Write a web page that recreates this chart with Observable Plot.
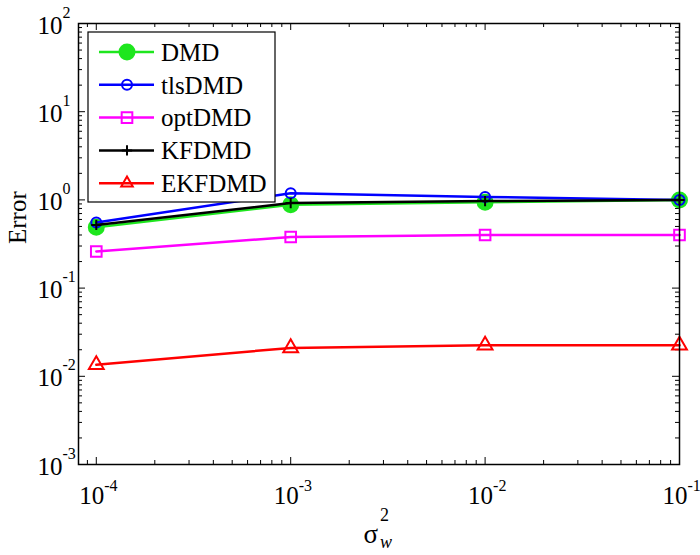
<!DOCTYPE html>
<html><head><meta charset="utf-8">
<script src="https://cdn.jsdelivr.net/npm/d3@7"></script>
<script src="https://cdn.jsdelivr.net/npm/@observablehq/plot@0.6"></script>
<style>body{margin:0;background:#fff} svg text{font-family:'Liberation Serif','Times New Roman',serif !important;}</style>
</head><body><div id="chart"></div>
<script>
// ---- data ----
const noise = [1e-4, 1e-3, 1e-2, 1e-1];
const dmd    = [0.49, 0.88, 0.94, 1.0];
const tlsDmd = [0.555, 1.19, 1.08, 1.0];
const optDmd = [0.26, 0.38, 0.40, 0.40];
const kfDmd  = [0.52, 0.92, 0.97, 1.0];
const ekfDmd = [0.0135, 0.021, 0.0225, 0.0225];
const seriesNames = ["DMD", "tlsDMD", "optDMD", "KFDMD", "EKFDMD"];
const seriesValues = [dmd, tlsDmd, optDmd, kfDmd, ekfDmd];
const xTickExp = [-4, -3, -2, -1];
const yTickExp = [-3, -2, -1, 0, 1, 2];
const yLabel = "Error";

// ---- styles ----
const colors = ["#1ee61e", "#0000ff", "#ff00ff", "#000000", "#ff0000"];
const symbols = ["circle", "circle", "square", "plus", "triangle"];
const radii = [7.5, 5, 6, 3.4, 5.5];
const fills = ["#1ee61e", "none", "none", "none", "none"];
const FONT = "'Liberation Serif', 'Times New Roman', serif";

const W = 700, H = 555, mt = 23, mr = 21, mb = 91, ml = 78;
const PW = W - ml - mr, PH = H - mt - mb;
const xDomain = [8.1e-5, 0.1], yDomain = [1e-3, 100];

const rows = [];
seriesNames.forEach((s, i) => noise.forEach((x, j) => rows.push({series: s, idx: i, x, y: seriesValues[i][j]})));

const xMajor = xTickExp.map(e => 10 ** e);
const yMajor = yTickExp.map(e => 10 ** e);
const xMinor = [], yMinor = [];
for (let e = -5; e <= -2; e++) for (let m = 2; m <= 9; m++) { const v = m * 10 ** e; if (v >= xDomain[0] && v <= xDomain[1]) xMinor.push(v); }
for (let e = -3; e <= 1; e++) for (let m = 2; m <= 9; m++) yMinor.push(m * 10 ** e);

const MAJ = 7, MIN = 4;
const marks = [
  Plot.tickX(xMajor, {x: d => d, insetTop: PH - MAJ, stroke: "black"}),
  Plot.tickX(xMajor, {x: d => d, insetBottom: PH - MAJ, stroke: "black"}),
  Plot.tickX(xMinor, {x: d => d, insetTop: PH - MIN, stroke: "black"}),
  Plot.tickX(xMinor, {x: d => d, insetBottom: PH - MIN, stroke: "black"}),
  Plot.tickY(yMajor, {y: d => d, insetRight: PW - MAJ, stroke: "black"}),
  Plot.tickY(yMajor, {y: d => d, insetLeft: PW - MAJ, stroke: "black"}),
  Plot.tickY(yMinor, {y: d => d, insetRight: PW - MIN, stroke: "black"}),
  Plot.tickY(yMinor, {y: d => d, insetLeft: PW - MIN, stroke: "black"}),
  ...seriesNames.flatMap((s, i) => [
    Plot.line(rows.filter(r => r.idx === i), {x: "x", y: "y", stroke: colors[i], strokeWidth: 2.5}),
    Plot.dot(rows.filter(r => r.idx === i), {x: "x", y: "y", symbol: symbols[i], r: radii[i],
      stroke: colors[i], fill: fills[i], strokeWidth: 2})
  ]),
  Plot.frame({stroke: "black", strokeWidth: 1.5}),
  Plot.text(xTickExp, {x: d => 10 ** d, frameAnchor: "bottom", text: () => "10", dx: 8, dy: 39,
    textAnchor: "end", fontSize: 25, fontFamily: FONT, fill: "black"}),
  Plot.text(xTickExp, {x: d => 10 ** d, frameAnchor: "bottom", text: d => String(d), dx: 8, dy: 26,
    textAnchor: "start", fontSize: 16, fontFamily: FONT, fill: "black"}),
  Plot.text(yTickExp, {y: d => 10 ** d, frameAnchor: "left", text: () => "10", dx: -16, dy: 2,
    textAnchor: "end", fontSize: 25, fontFamily: FONT, fill: "black"}),
  Plot.text(yTickExp, {y: d => 10 ** d, frameAnchor: "left", text: d => String(d), dx: -16, dy: -11,
    textAnchor: "start", fontSize: 16, fontFamily: FONT, fill: "black"}),
  Plot.text([yLabel], {frameAnchor: "left", text: d => d, dx: -61, rotate: -90, fontSize: 25, fontFamily: FONT, fill: "black"}),
  Plot.text(["σ"], {frameAnchor: "bottom", text: d => d, dx: -1, dy: 78, textAnchor: "end", fontSize: 27, fontFamily: FONT, fill: "black"}),
  Plot.text(["2"], {frameAnchor: "bottom", text: d => d, dx: 1, dy: 56, textAnchor: "start", fontSize: 18, fontFamily: FONT, fill: "black"}),
  Plot.text(["w"], {frameAnchor: "bottom", text: d => d, dx: 1, dy: 83, textAnchor: "start", fontSize: 18, fontStyle: "italic", fontFamily: FONT, fill: "black"})
];

const chart = Plot.plot({
  width: W, height: H, marginTop: mt, marginRight: mr, marginBottom: mb, marginLeft: ml,
  x: {type: "log", domain: xDomain, axis: null},
  y: {type: "log", domain: yDomain, axis: null},
  style: {background: "white", overflow: "visible", fontFamily: FONT},
  marks
});
document.getElementById("chart").appendChild(chart);

// ---- legend (inside plot, upper left) ----
const svg = d3.select(chart);
const lg = svg.append("g").attr("text-anchor", "start");
const bx = 88, by = 32, bw = 187, bh = 170;
lg.append("rect").attr("x", bx).attr("y", by).attr("width", bw).attr("height", bh)
  .attr("fill", "white").attr("stroke", "black").attr("stroke-width", 1.2);
const symMap = {circle: d3.symbolCircle, square: d3.symbolSquare, plus: d3.symbolPlus, triangle: d3.symbolTriangle2};
seriesNames.forEach((s, i) => {
  const yy = 52 + i * 32.8;
  lg.append("line").attr("x1", 99).attr("x2", 154).attr("y1", yy).attr("y2", yy)
    .attr("stroke", colors[i]).attr("stroke-width", 2.5);
  lg.append("path").attr("transform", `translate(127,${yy})`)
    .attr("d", d3.symbol(symMap[symbols[i]], Math.PI * radii[i] * radii[i])())
    .attr("fill", fills[i]).attr("stroke", colors[i]).attr("stroke-width", 2);
  lg.append("text").attr("x", 161).attr("y", yy).attr("dy", "0.35em").attr("text-anchor", "start")
    .style("font-family", FONT).attr("font-size", 25).attr("fill", "black").text(s);
});
</script>
</body></html>
